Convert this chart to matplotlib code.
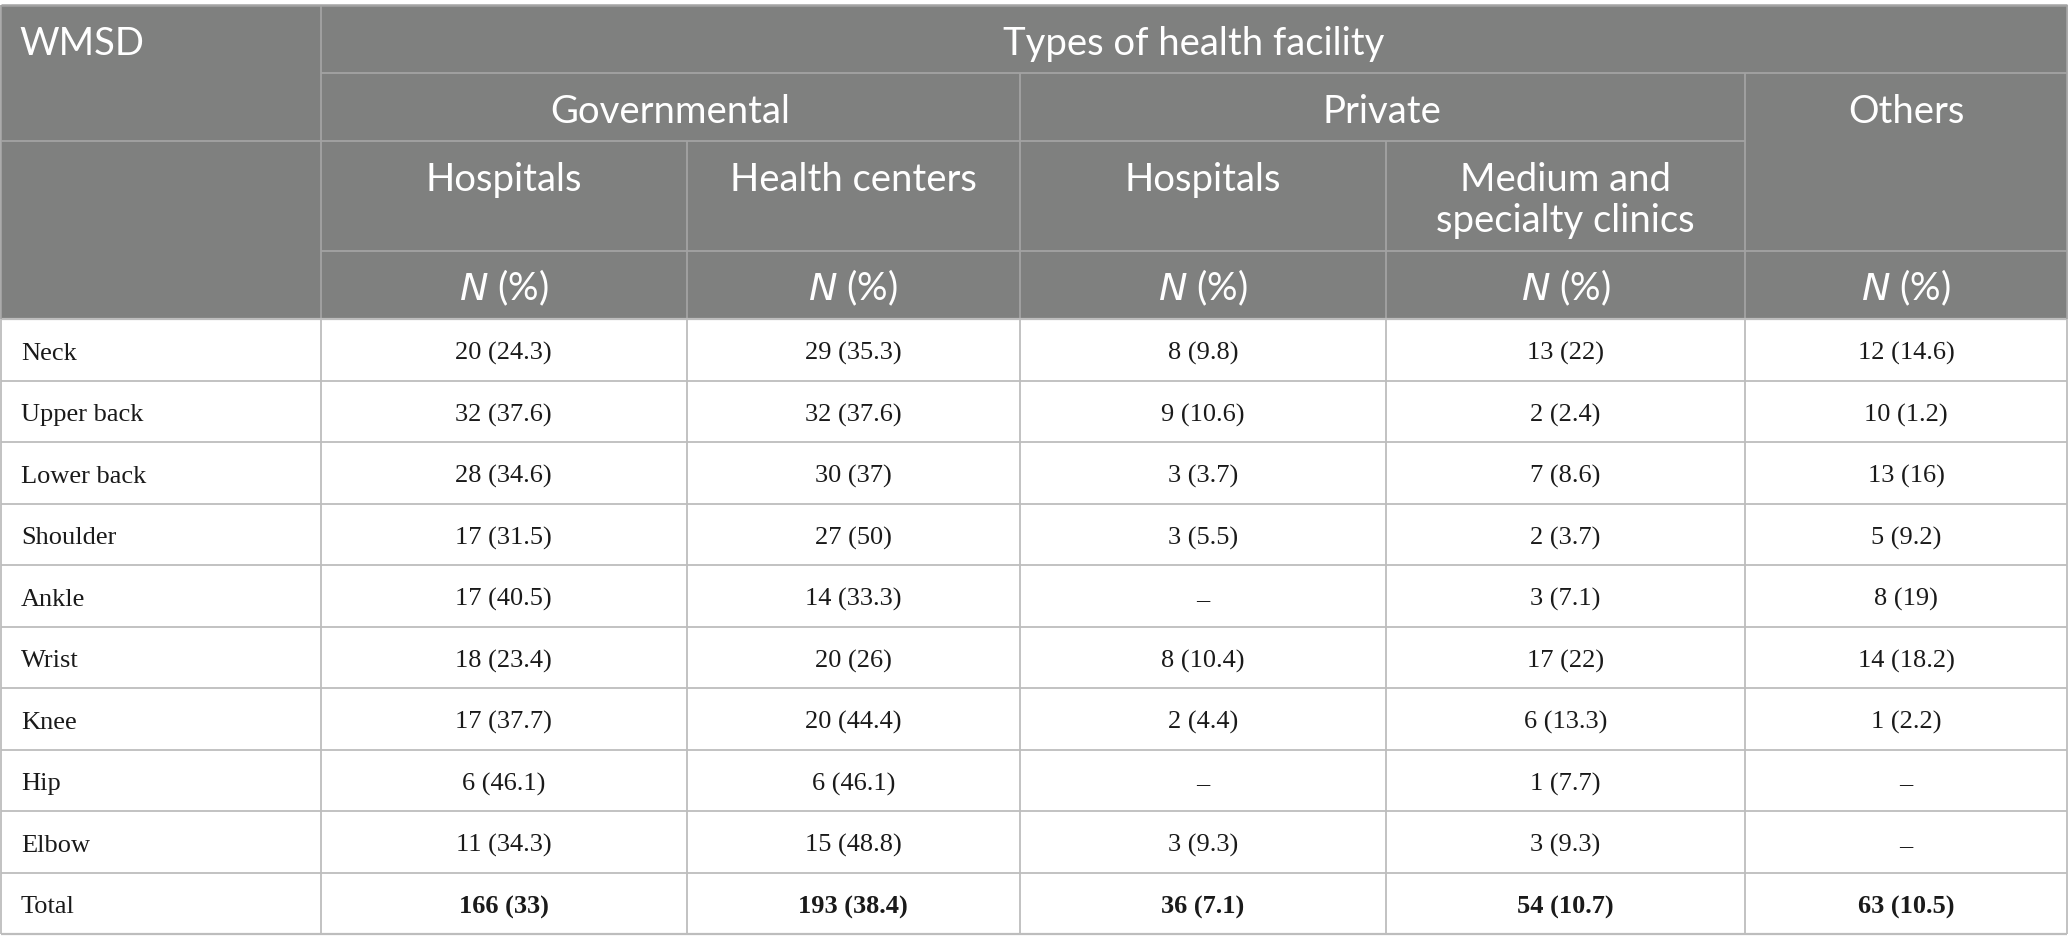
import matplotlib
matplotlib.use("Agg")
import matplotlib.pyplot as plt
from matplotlib.patches import Rectangle

# ---- data ----
row_labels = ["Neck", "Upper back", "Lower back", "Shoulder", "Ankle", "Wrist",
              "Knee", "Hip", "Elbow", "Total"]
gov_hospitals = ["20 (24.3)", "32 (37.6)", "28 (34.6)", "17 (31.5)", "17 (40.5)",
                 "18 (23.4)", "17 (37.7)", "6 (46.1)", "11 (34.3)", "166 (33)"]
gov_health_centers = ["29 (35.3)", "32 (37.6)", "30 (37)", "27 (50)", "14 (33.3)",
                      "20 (26)", "20 (44.4)", "6 (46.1)", "15 (48.8)", "193 (38.4)"]
priv_hospitals = ["8 (9.8)", "9 (10.6)", "3 (3.7)", "3 (5.5)", "–",
                  "8 (10.4)", "2 (4.4)", "–", "3 (9.3)", "36 (7.1)"]
priv_clinics = ["13 (22)", "2 (2.4)", "7 (8.6)", "2 (3.7)", "3 (7.1)",
                "17 (22)", "6 (13.3)", "1 (7.7)", "3 (9.3)", "54 (10.7)"]
others = ["12 (14.6)", "10 (1.2)", "13 (16)", "5 (9.2)", "8 (19)",
          "14 (18.2)", "1 (2.2)", "–", "–", "63 (10.5)"]

title_header = "Types of health facility"
group_headers = ["Governmental", "Private", "Others"]
sub_headers = [["Hospitals"], ["Health centers"], ["Hospitals"],
               ["Medium and", "specialty clinics"]]
stub_header = "WMSD"

columns = [gov_hospitals, gov_health_centers, priv_hospitals, priv_clinics, others]

# ---- layout (pixels) ----
W, H = 2068, 952
fig = plt.figure(figsize=(W / 100, H / 100), dpi=100)
ax = fig.add_axes([0, 0, 1, 1])
ax.set_xlim(0, W)
ax.set_ylim(H, 0)
ax.axis("off")

xs = [1, 320.5, 687, 1019.5, 1386, 1745, 2067]
y_top, y1, y2, y3, y_head = 5, 72.5, 141, 250.5, 319
row_h = 61.5
n = len(row_labels)
y_bottom = y_head + n * row_h

HEAD_BG = "#7f807f"
HEAD_LINE = "#a3a3a3"
BODY_LINE = "#bdbdbd"
HEAD_FONT = "Lato"
BODY_FONT = "Liberation Serif"
hfs = 27.5
bfs = 19

ax.add_patch(Rectangle((xs[0], y_top), xs[-1] - xs[0], y_head - y_top,
                       facecolor=HEAD_BG, edgecolor="none", zorder=0))

def hline(y, x0, x1, c, lw=1.3):
    ax.plot([x0, x1], [y, y], color=c, lw=lw, solid_capstyle="butt", zorder=2)

def vline(x, y0, y1_, c, lw=1.3):
    ax.plot([x, x], [y0, y1_], color=c, lw=lw, solid_capstyle="butt", zorder=2)

# header lines
hline(y_top, xs[0], xs[-1], HEAD_LINE, 1.8)
hline(y1, xs[1], xs[-1], HEAD_LINE)
hline(y2, xs[0], xs[5], HEAD_LINE)
hline(y3, xs[1], xs[-1], HEAD_LINE)
vline(xs[1], y_top, y_head, HEAD_LINE)
vline(xs[2], y2, y_head, HEAD_LINE)
vline(xs[3], y1, y_head, HEAD_LINE)
vline(xs[4], y2, y_head, HEAD_LINE)
vline(xs[5], y1, y_head, HEAD_LINE)

# body lines
for i in range(n + 1):
    hline(y_head + i * row_h, xs[0], xs[-1], BODY_LINE, 1.6 if i in (0, n) else 1.3)
for x in xs:
    vline(x, y_head, y_bottom, BODY_LINE)
vline(xs[0], y_top, y_head, HEAD_LINE)
vline(xs[-1], y_top, y_head, HEAD_LINE)

# header text
def htext(x, y, s, ha="center"):
    ax.text(x, y, s, ha=ha, va="center", color="white", fontsize=hfs,
            family=[HEAD_FONT, "DejaVu Sans"])

htext(19, 44, stub_header, ha="left")
htext((xs[1] + xs[-1]) / 2, 44, title_header)
htext((xs[1] + xs[3]) / 2, 112, group_headers[0])
htext((xs[3] + xs[5]) / 2, 112, group_headers[1])
htext((xs[5] + xs[6]) / 2, 112, group_headers[2])
for j, lines in enumerate(sub_headers):
    cx = (xs[j + 1] + xs[j + 2]) / 2
    for k, s in enumerate(lines):
        htext(cx, 180 + k * 41, s)
for j in range(5):
    cx = (xs[j + 1] + xs[j + 2]) / 2
    htext(cx, 288, r"$\mathit{N}$ (%)")

# body text
for i, lab in enumerate(row_labels):
    yc = y_head + (i + 0.5) * row_h + 4
    ax.text(21, yc, lab, ha="left", va="center", color="#1a1a1a",
            fontsize=bfs, family=BODY_FONT)
    for j, col in enumerate(columns):
        cx = (xs[j + 1] + xs[j + 2]) / 2
        ax.text(cx, yc, col[i], ha="center", va="center", color="#1a1a1a",
                fontsize=bfs, family=BODY_FONT,
                fontweight="bold" if lab == "Total" else "normal")

fig.savefig("out.png", dpi=100, facecolor="white")
